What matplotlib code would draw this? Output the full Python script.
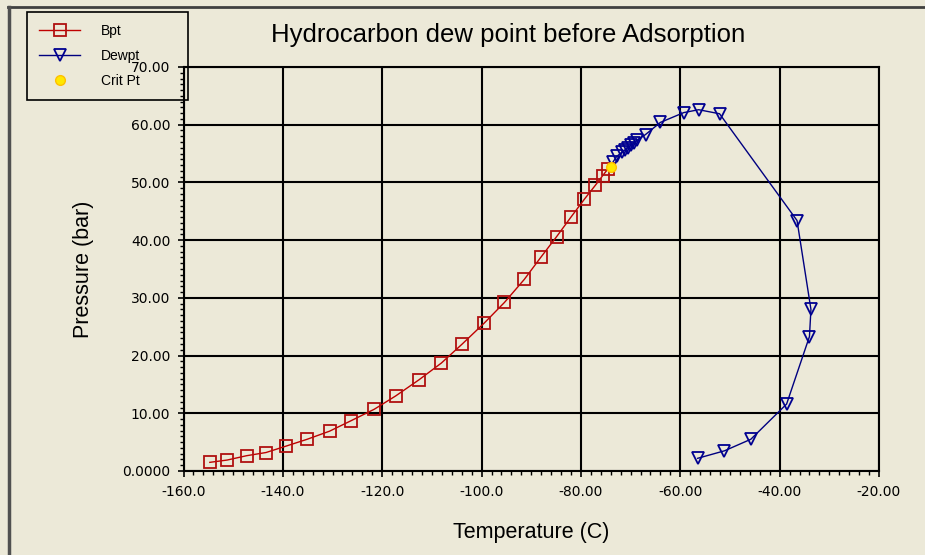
import numpy as np
import matplotlib
matplotlib.use("Agg")
import matplotlib.pyplot as plt
from matplotlib.lines import Line2D
from matplotlib.ticker import MultipleLocator, FixedLocator

plt.rcParams['font.family'] = ['Liberation Sans', 'DejaVu Sans']

# bubble point curve (Temperature C, Pressure bar)
bpt_t = [-154.7, -151.2, -147.3, -143.4, -139.4, -135.1, -130.6, -126.3, -121.6,
         -117.3, -112.6, -108.1, -103.9, -99.5, -95.4, -91.4, -88.1, -84.9,
         -82.0, -79.3, -77.1, -75.6, -74.6]
bpt_p = [1.5, 1.9, 2.65, 3.2, 4.3, 5.5, 6.9, 8.7, 10.7,
         13.0, 15.8, 18.7, 22.0, 25.6, 29.2, 33.2, 37.0, 40.6,
         44.0, 47.1, 49.5, 51.2, 52.3]

# dew point curve
dew_t = [-73.5, -72.8, -71.8, -71.2, -70.6, -70.0, -69.4, -68.7, -67.0, -64.0,
         -59.3, -56.3, -52.1, -36.5, -33.7, -34.0, -38.6, -45.8, -51.1, -56.5]
dew_p = [53.6, 54.5, 55.2, 55.6, 56.0, 56.4, 56.8, 57.3, 58.3, 60.4,
         62.1, 62.6, 61.9, 43.4, 28.0, 23.3, 11.6, 5.5, 3.5, 2.2]

# critical point
crit_t = [-74.0]
crit_p = [52.7]

xticks = [-160, -140, -120, -100, -80, -60, -40, -20]
xlabels = ['-160.0', '-140.0', '-120.0', '-100.0', '-80.00', '-60.00', '-40.00', '-20.00']
yticks = [0, 10, 20, 30, 40, 50, 60, 70]
ylabels = ['0.0000', '10.00', '20.00', '30.00', '40.00', '50.00', '60.00', '70.00']

BG = '#ECE9D8'
W, H = 925, 555

fig = plt.figure(figsize=(W / 100, H / 100), dpi=100, facecolor=BG)
ax = fig.add_axes([183.5 / W, 1 - 471 / H, (879 - 183.5) / W, (471 - 67) / H])
ax.patch.set_visible(False)

ax.plot(bpt_t, bpt_p, color='#C00000', lw=1.0, marker='s', ms=9,
        mfc='none', mec='#B01010', mew=1.3, label='Bpt', zorder=3)
ax.plot(dew_t, dew_p, color='#000080', lw=1.0, marker='v', ms=9,
        mfc='none', mec='#000090', mew=1.3, label='Dewpt', zorder=3)
ax.plot(crit_t, crit_p, ls='none', marker='o', ms=7, color='#FFE800',
        mec='#FFC000', label='Crit Pt', zorder=4)

ax.set_xlim(-160, -20)
ax.set_ylim(0, 70)
ax.xaxis.set_major_locator(FixedLocator(xticks))
ax.yaxis.set_major_locator(FixedLocator(yticks))
ax.set_xticklabels(xlabels, family='DejaVu Sans')
ax.set_yticklabels(ylabels, family='DejaVu Sans')
ax.xaxis.set_minor_locator(MultipleLocator(2))
ax.yaxis.set_minor_locator(MultipleLocator(1))
ax.tick_params(which='major', direction='inout', length=8, width=1.2,
               labelsize=10, colors='black')
ax.tick_params(axis='x', which='major', pad=6)
ax.tick_params(axis='y', which='major', pad=5.5)
ax.tick_params(which='minor', direction='out', length=3, width=1)
ax.grid(True, which='major', color='black', lw=1.5)
for s in ax.spines.values():
    s.set_color('black')
    s.set_linewidth(1.5)

fig.text(508 / W, 1 - 41.7 / H, 'Hydrocarbon dew point before Adsorption',
         ha='center', va='baseline', fontsize=18.5)
fig.text(531 / W, 1 - 538 / H, 'Temperature (C)', ha='center', va='baseline',
         fontsize=15.5)
fig.text(84 / W, 1 - 269 / H, 'Pressure (bar)', ha='center', va='center',
         rotation=90, fontsize=15.5)

leg = fig.legend(loc='upper left', bbox_to_anchor=(27 / W, 1 - 100 / H, 161 / W, 88 / H),
                 bbox_transform=fig.transFigure, borderaxespad=0, mode='expand',
                 fontsize=10, handlelength=3.0, handletextpad=1.5,
                 labelspacing=0.8, borderpad=0.85, fancybox=False,
                 framealpha=1, facecolor=BG, edgecolor='black')
leg.get_frame().set_linewidth(1.2)
leg.set_zorder(-1)

# window frame lines (top and left)
fig.add_artist(Line2D([8 / W, 1], [1 - 7 / H, 1 - 7 / H], color='#404040', lw=2,
                      transform=fig.transFigure))
fig.add_artist(Line2D([9 / W, 9 / W], [0, 1 - 7 / H], color='#505050', lw=2.5,
                      transform=fig.transFigure))

fig.savefig('out.png', dpi=100, facecolor=BG)
